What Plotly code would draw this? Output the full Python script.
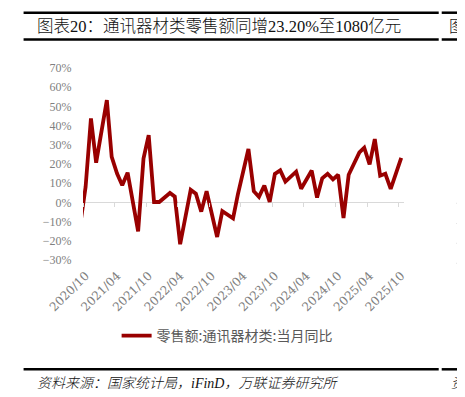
import pandas as pd
import plotly.graph_objects as go

# ---- data (Jan figures are combined into Feb) ----
months = [
    "2020-09", "2020-10", "2020-11", "2020-12",
    "2021-02", "2021-03", "2021-04", "2021-05", "2021-06", "2021-07", "2021-08", "2021-09", "2021-10", "2021-11", "2021-12",
    "2022-02", "2022-03", "2022-04", "2022-05", "2022-06", "2022-07", "2022-08", "2022-09", "2022-10", "2022-11", "2022-12",
    "2023-02", "2023-03", "2023-04", "2023-05", "2023-06", "2023-07", "2023-08", "2023-09", "2023-10", "2023-11", "2023-12",
    "2024-02", "2024-03", "2024-04", "2024-05", "2024-06", "2024-07", "2024-08", "2024-09", "2024-10", "2024-11", "2024-12",
    "2025-02", "2025-03", "2025-04", "2025-05", "2025-06", "2025-07", "2025-08", "2025-09", "2025-10",
]
yoy = [
    -11.0, 8.0, 43.7, 20.7,
    53.3, 23.7, 15.0, 8.9, 15.5, 1.0, -15.1, 22.8, 35.0, 0.2, 0.2,
    4.9, 3.0, -21.8, -8.0, 6.5, 4.5, -4.8, 5.8, -6.6, -18.0, -4.6,
    -8.3, 4.2, 16.7, 27.8, 5.8, 2.9, 8.8, 0.2, 14.8, 16.7, 10.8,
    16.0, 7.1, 12.2, 16.6, 2.5, 12.6, 14.9, 12.0, 14.4, -8.1, 14.4,
    26.0, 28.5, 19.8, 33.0, 13.9, 14.9, 7.1, 15.3, 23.2,
]
tick_labels = ["2020/10", "2021/04", "2021/10", "2022/04", "2022/10", "2023/04",
               "2023/10", "2024/04", "2024/10", "2025/04", "2025/10"]
series_name = "零售额:通讯器材类:当月同比"
title_text = "图表20：通讯器材类零售额同增23.20%至1080亿元"
source_text = "资料来源：国家统计局，iFinD，万联证券研究所"

# ---- geometry (page pixels; the page body adds an 8px offset) ----
OFF = 8
W, H = 465 - OFF, 397 - OFF
PLOT_L, PLOT_R, PLOT_T, PLOT_B = 83.4, 404.3, 68.0, 260.0   # page coords
L = PLOT_L - OFF
R = W - (PLOT_R - OFF)
T = PLOT_T - OFF
B = H - (PLOT_B - OFF)
PW, PH = W - L - R, H - T - B


def px_x(px):
    return (px - OFF - L) / PW


def px_y(py):
    return (H - B - (py - OFF)) / PH


x_dates = pd.to_datetime([m + "-16" for m in months])
tick_vals = pd.to_datetime([t.replace("/", "-") + "-16" for t in tick_labels])
x_range = ["2020-10-01", "2025-11-01"]
y_range = [-30, 70]

RED = "#990000"
GRAY = "#808080"
SERIF = "Liberation Serif, Noto Sans CJK SC"

fig = go.Figure()
fig.add_trace(go.Scatter(
    x=x_dates, y=yoy, mode="lines", name=series_name,
    line=dict(color=RED, width=3.8), hoverinfo="skip",
))
fig.add_trace(go.Scatter(
    x=[x_dates[1]], y=[0], xaxis="x2", mode="markers",
    marker=dict(opacity=0), showlegend=False, hoverinfo="skip",
))

fig.update_layout(
    width=W, height=H,
    margin=dict(l=L, r=R, t=T, b=B, pad=0),
    paper_bgcolor="white", plot_bgcolor="white",
    showlegend=True,
    legend=dict(
        orientation="h", x=px_x(117), xanchor="left", y=px_y(336), yanchor="middle",
        font=dict(family="Noto Sans CJK SC", size=14, color="#595959"),
        bgcolor="rgba(0,0,0,0)", borderwidth=0,
    ),
    xaxis=dict(
        type="date", range=x_range, showgrid=False, zeroline=False, showline=False,
        tickmode="array", tickvals=tick_vals, ticktext=tick_labels, tickangle=-45,
        ticks="outside", ticklen=3, tickcolor="rgba(0,0,0,0)",
        tickfont=dict(family="DejaVu Serif", size=12, color=GRAY),
    ),
    xaxis2=dict(
        type="date", range=x_range, overlaying="x", matches="x", anchor="free",
        position=(0 - y_range[0]) / (y_range[1] - y_range[0]),
        showgrid=False, zeroline=False, showline=False, showticklabels=False,
        tickmode="linear", tick0="2020-10-01", dtick="M6",
        ticks="outside", ticklen=4, tickcolor="#d9d9d9", tickwidth=1,
    ),
    yaxis=dict(
        range=y_range, dtick=10, tick0=0, showgrid=False, showline=False,
        zeroline=True, zerolinecolor="#d9d9d9", zerolinewidth=1.2,
        ticksuffix="%", ticks="outside", ticklen=8, tickcolor="rgba(0,0,0,0)",
        tickfont=dict(family="Liberation Serif", size=12, color=GRAY),
    ),
)

# ---- report frame decorations ----
line_style = dict(color="black", width=2.5)
for y in (12.7, 39.5, 369.3):
    fig.add_shape(type="line", xref="paper", yref="paper",
                  x0=px_x(24), x1=px_x(439), y0=px_y(y), y1=px_y(y), line=line_style)
    fig.add_shape(type="line", xref="paper", yref="paper",
                  x0=px_x(442), x1=px_x(470), y0=px_y(y), y1=px_y(y), line=line_style)

for y in (203.3, 223.5, 243.3, 263.3):
    fig.add_shape(type="line", xref="paper", yref="paper",
                  x0=px_x(457), x1=px_x(463), y0=px_y(y), y1=px_y(y),
                  line=dict(color="#aaaaaa", width=1))

fig.add_annotation(text=title_text, xref="paper", yref="paper",
                   x=px_x(35), y=px_y(27), xanchor="left", yanchor="middle",
                   showarrow=False,
                   font=dict(family=SERIF, size=16.5, color="#111111", weight=300))
fig.add_annotation(text="图", xref="paper", yref="paper",
                   x=px_x(447), y=px_y(27), xanchor="left", yanchor="middle",
                   showarrow=False,
                   font=dict(family=SERIF, size=16, color="#111111", weight=300))
fig.add_annotation(text="<i>" + source_text + "</i>", xref="paper", yref="paper",
                   x=px_x(35), y=px_y(383), xanchor="left", yanchor="middle",
                   showarrow=False,
                   font=dict(family=SERIF, size=14, color="#111111", weight=300))
fig.add_annotation(text="<i>资</i>", xref="paper", yref="paper",
                   x=px_x(449), y=px_y(383), xanchor="left", yanchor="middle",
                   showarrow=False,
                   font=dict(family=SERIF, size=14, color="#111111", weight=300))

fig.write_html("out.html")
